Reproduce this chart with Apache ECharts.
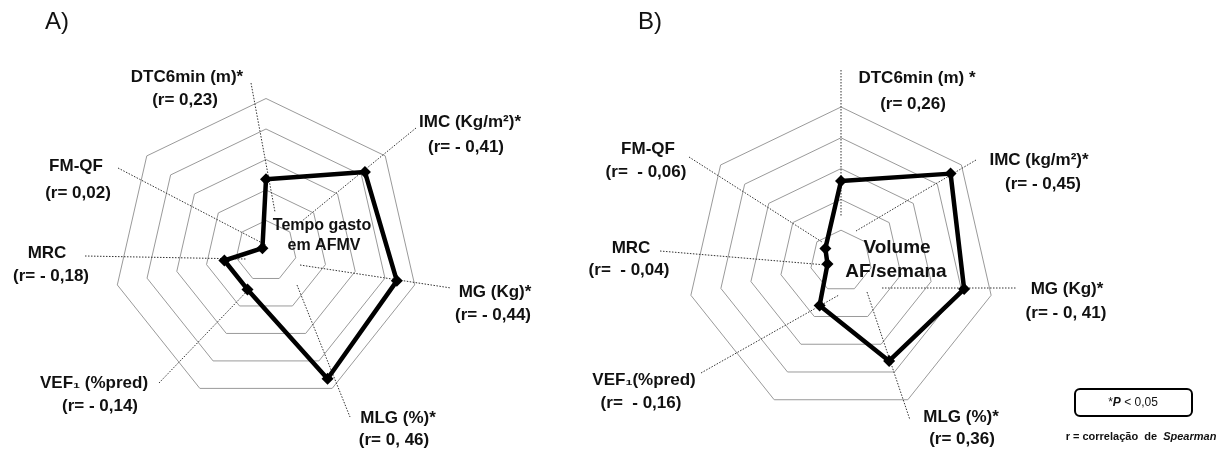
<!DOCTYPE html>
<html>
<head>
<meta charset="utf-8">
<script src="https://cdn.jsdelivr.net/npm/echarts@6/dist/echarts.min.js"></script>
<style>
html,body{margin:0;padding:0;background:#fff;}
#chart{width:1221px;height:452px;}
</style>
</head>
<body>
<div id="chart"></div>
<script>
// Axes in clockwise order starting at the top
const axisNames = ['DTC6min', 'IMC', 'MG', 'MLG', 'VEF1', 'MRC', 'FM-QF'];
// |r| values as drawn (panel A: tempo gasto em AFMV; panel B: volume AF/semana)
const valuesA = [0.235, 0.415, 0.44, 0.465, 0.14, 0.14, 0.015];
const valuesB = [0.26, 0.455, 0.41, 0.36, 0.16, 0.045, 0.065];
const axisMax = 0.5;
const rings = 5;

// label texts
const titleA = 'A)';
const titleB = 'B)';
const centerA = ['Tempo gasto', 'em AFMV'];
const centerB = ['Volume', 'AF/semana'];
const labelsA = ['DTC6min (m)*', 'IMC (Kg/m²)*', 'MG (Kg)*', 'MLG (%)*', 'VEF₁ (%pred)', 'MRC', 'FM-QF'];
const rTextA = ['(r= 0,23)', '(r= - 0,41)', '(r= - 0,44)', '(r= 0, 46)', '(r= - 0,14)', '(r= - 0,18)', '(r= 0,02)'];
const labelsB = ['DTC6min (m) *', 'IMC (kg/m²)*', 'MG (Kg)*', 'MLG (%)*', 'VEF₁(%pred)', 'MRC', 'FM-QF'];
const rTextB = ['(r= 0,26)', '(r= - 0,45)', '(r= - 0, 41)', '(r= 0,36)', '(r=  - 0,16)', '(r=  - 0,04)', '(r=  - 0,06)'];

// ECharts places indicators counter-clockwise; reorder clockwise lists
const ccw = arr => [arr[0]].concat(arr.slice(1).reverse());

// layout (positions of annotation text and leader lines)
const labelPosA = [[187,77,185,100],[470,122,466,147],[495,292,493,315],[398,418,394,440],[94,383,100,406],[47,253,51,276],[76,166,78,193]];
const labelPosB = [[917,78,913,104],[1039,160,1043,184],[1067,289,1066,313],[961,417,962,439],[644,380,641,403],[631,248,629,270],[648,149,646,172]];
const leadA = [[251,83,275,212],[416,128,302,221],[300,265,451,288],[297,285,350,417],[159,383,251,287],[85,256,246,259],[118,168,266,245]];
const leadB = [[841,70,841,217],[976,160,856,231],[882,288,1016,288],[867,292,910,420],[701,373,839,295],[660,251,826,265],[689,157,822,242]];

const FONT = '"Liberation Sans", Arial, sans-serif';
const chart = echarts.init(document.getElementById('chart'));

function radarCfg(center, radius) {
  return {
    center: center,
    radius: radius,
    startAngle: 90,
    shape: 'polygon',
    splitNumber: rings,
    indicator: ccw(axisNames).map(n => ({ name: n, max: axisMax, min: 0 })),
    axisName: { show: false },
    axisLine: { show: false },
    axisTick: { show: false },
    axisLabel: { show: false },
    splitArea: { show: false },
    splitLine: { lineStyle: { color: '#9a9a9a', width: 1 } }
  };
}

function seriesCfg(idx, vals) {
  return {
    type: 'radar',
    radarIndex: idx,
    symbol: 'diamond',
    symbolSize: 12,
    z: 5,
    lineStyle: { color: '#000', width: 4.5 },
    itemStyle: { color: '#000' },
    areaStyle: null,
    data: [{ value: ccw(vals) }]
  };
}

const graphics = [];
function addText(txt, x, y, size, weight) {
  graphics.push({
    type: 'text', z: 10,
    style: { text: txt, x: x, y: y, align: 'center', verticalAlign: 'middle',
      font: (weight || 'bold') + ' ' + size + 'px ' + FONT, fill: '#111' }
  });
}
function addLead(l) {
  graphics.push({
    type: 'line', z: 1,
    shape: { x1: l[0], y1: l[1], x2: l[2], y2: l[3] },
    style: { stroke: '#333', lineWidth: 1, lineDash: [1.5, 1.5] }
  });
}
leadA.forEach(addLead);
leadB.forEach(addLead);
labelsA.forEach((t, i) => { const p = labelPosA[i]; addText(t, p[0], p[1], 17); addText(rTextA[i], p[2], p[3], 17); });
labelsB.forEach((t, i) => { const p = labelPosB[i]; addText(t, p[0], p[1], 17); addText(rTextB[i], p[2], p[3], 17); });
addText(titleA, 57, 22, 24, 'normal');
addText(titleB, 650, 22, 24, 'normal');
addText(centerA[0], 322, 226, 16);
addText(centerA[1], 324, 246, 16);
addText(centerB[0], 897, 248, 19);
addText(centerB[1], 896, 272, 19);

// significance legend box
graphics.push({
  type: 'rect', z: 10,
  shape: { x: 1075, y: 389, width: 117, height: 27, r: 5 },
  style: { fill: 'none', stroke: '#000', lineWidth: 2 }
});
graphics.push({
  type: 'text', z: 10,
  style: {
    x: 1133, y: 403, align: 'center', verticalAlign: 'middle',
    text: '{n|*}{i|P}{n| < 0,05}',
    rich: {
      n: { fontFamily: FONT, fontSize: 12, fill: '#111' },
      i: { fontFamily: FONT, fontSize: 12, fontWeight: 'bold', fontStyle: 'italic', fill: '#111' }
    }
  }
});
graphics.push({
  type: 'text', z: 10,
  style: {
    x: 1141, y: 437, align: 'center', verticalAlign: 'middle',
    text: '{n|r = correlação  de  }{i|Spearman}',
    rich: {
      n: { fontFamily: FONT, fontSize: 11, fontWeight: 'bold', fill: '#111' },
      i: { fontFamily: FONT, fontSize: 11, fontWeight: 'bold', fontStyle: 'italic', fill: '#111' }
    }
  }
});

chart.setOption({
  backgroundColor: '#fff',
  animation: false,
  radar: [radarCfg([266, 251], 152.5), radarCfg([841, 261], 154)],
  series: [seriesCfg(0, valuesA), seriesCfg(1, valuesB)],
  graphic: graphics
});
</script>
</body>
</html>
